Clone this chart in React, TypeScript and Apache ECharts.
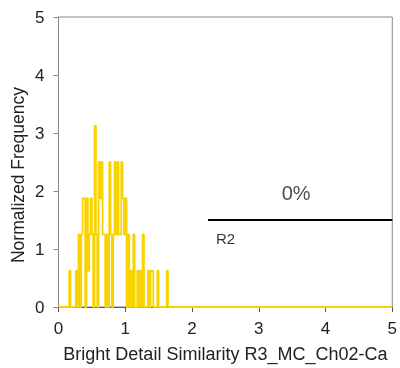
import React, { useEffect, useRef } from "react";
import * as echarts from "echarts";

const binWidth = 0.02;
const binCenters = [0.17, 0.27, 0.31, 0.35, 0.37, 0.39, 0.43, 0.45, 0.47, 0.49, 0.51, 0.55, 0.57, 0.61, 0.63, 0.65, 0.67, 0.69, 0.73, 0.77, 0.79, 0.83, 0.85, 0.87, 0.89, 0.91, 0.93, 0.95, 0.97, 0.99, 1.01, 1.05, 1.09, 1.13, 1.19, 1.23, 1.27, 1.35, 1.39, 1.41, 1.49, 1.63];
const binHeights = [0.625, 0.625, 1.25, 1.25, 1.875, 1.875, 1.875, 0.625, 1.25, 1.875, 1.25, 3.125, 1.25, 2.5, 1.875, 2.5, 1.25, 1.25, 1.25, 2.5, 1.25, 1.25, 2.5, 1.25, 2.5, 1.25, 1.25, 2.5, 1.875, 1.25, 1.875, 1.25, 0.625, 1.25, 0.625, 0.625, 1.25, 0.625, 0.625, 0.625, 0.625, 0.625];
const xTicks = [0, 1, 2, 3, 4, 5];
const yTicks = [0, 1, 2, 3, 4, 5];
const gateX = [2.24, 5];
const gateY = 1.5;
const gateName = "R2";
const gatePercent = "0%";
const gatePercentPos = [3.56, 1.97];

function buildOutline(): number[][] {
  const pts: number[][] = [[0, 0]];
  for (let i = 0; i < binCenters.length; i++) {
    const left = binCenters[i] - binWidth / 2;
    const right = binCenters[i] + binWidth / 2;
    const prevAdj = i > 0 && Math.abs(binCenters[i - 1] + binWidth - binCenters[i]) < 1e-6;
    const nextAdj = i < binCenters.length - 1 && Math.abs(binCenters[i] + binWidth - binCenters[i + 1]) < 1e-6;
    if (!prevAdj) pts.push([left, 0]);
    pts.push([left, binHeights[i]]);
    pts.push([right, binHeights[i]]);
    if (!nextAdj) pts.push([right, 0]);
  }
  pts.push([5, 0]);
  return pts;
}

export default function App() {
  const ref = useRef<HTMLDivElement>(null);
  useEffect(() => {
    if (!ref.current) return;
    const chart = echarts.init(ref.current, undefined, { renderer: "svg" });
    const font = "Liberation Sans, Arial, sans-serif";
    chart.setOption({
      animation: false,
      grid: { left: 58.5, right: 6, top: 17, bottom: 57, show: true, borderColor: "#888", borderWidth: 1 },
      graphic: [
        {
          type: "text",
          x: 18,
          y: 175,
          rotation: Math.PI / 2,
          style: { text: "Normalized Frequency", fontFamily: font, fontSize: 17.5, fill: "#222", align: "center", verticalAlign: "middle" },
        },
      ],
      xAxis: {
        type: "value",
        min: xTicks[0],
        max: xTicks[xTicks.length - 1],
        interval: 1,
        name: "Bright Detail Similarity R3_MC_Ch02-Ca",
        nameLocation: "middle",
        nameGap: 38,
        nameTextStyle: { fontFamily: font, fontSize: 18, color: "#222" },
        axisLine: { show: true, lineStyle: { color: "#555", width: 1 } },
        axisTick: { show: true, length: 5, lineStyle: { color: "#555" } },
        axisLabel: { fontFamily: font, fontSize: 17, color: "#222", margin: 13 },
        splitLine: { show: false },
      },
      yAxis: {
        type: "value",
        min: yTicks[0],
        max: yTicks[yTicks.length - 1],
        interval: 1,
        axisLine: { show: true, lineStyle: { color: "#888", width: 1 } },
        axisTick: { show: true, length: 5, lineStyle: { color: "#888" } },
        axisLabel: { fontFamily: font, fontSize: 17, color: "#222", margin: 14 },
        splitLine: { show: false },
      },
      series: [
        {
          type: "line",
          data: buildOutline(),
          symbol: "none",
          lineStyle: { color: "#F9D300", width: 1.8 },
          z: 3,
        },
        {
          type: "line",
          data: [[gateX[0], gateY], [gateX[1], gateY]],
          symbol: "none",
          lineStyle: { color: "#000", width: 2 },
          z: 4,
        },
        {
          type: "scatter",
          symbolSize: 0,
          data: [
            { value: gatePercentPos, label: { show: true, formatter: gatePercent, position: "inside", fontFamily: font, fontSize: 20, color: "#222" } },
            { value: [gateX[0], gateY], label: { show: true, formatter: gateName, position: "insideTopLeft", offset: [3, 6], align: "left", verticalAlign: "top", fontFamily: font, fontSize: 15, color: "#000" } },
          ],
          z: 5,
        },
      ],
    });
    return () => chart.dispose();
  }, []);
  return <div ref={ref} style={{ position: "fixed", left: 0, top: 0, width: 400, height: 368 }} />;
}
